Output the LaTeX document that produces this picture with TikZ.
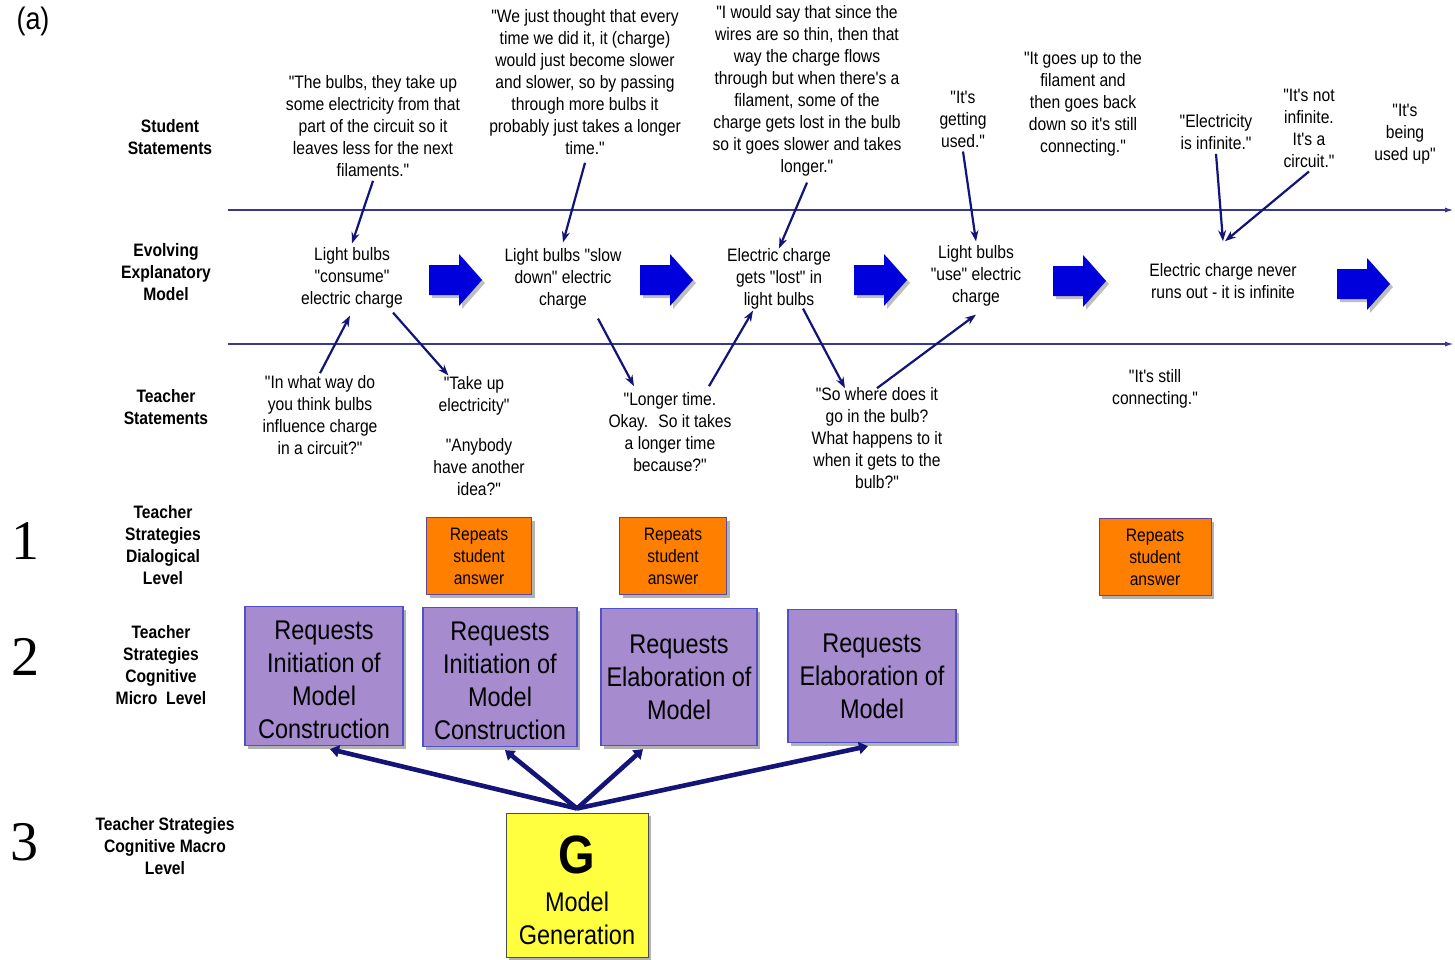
\documentclass[tikz,border=0pt]{standalone}
\usepackage{fontspec}
\setmainfont{Liberation Sans}[FakeStretch=0.87, Ligatures=TeXOff]
\newfontfamily\numfont{Liberation Serif}
\usetikzlibrary{arrows.meta,shadows}
\definecolor{navy}{RGB}{20,20,120}
\definecolor{linec}{RGB}{55,55,150}
\definecolor{arrowblue}{RGB}{0,0,220}
\definecolor{purp}{RGB}{166,140,206}
\definecolor{purpb}{RGB}{80,80,200}
\definecolor{orng}{RGB}{255,128,0}
\definecolor{oborder}{RGB}{100,70,150}
\definecolor{yel}{RGB}{255,255,64}
\begin{document}
\begin{tikzpicture}[x=1pt,y=-1pt,
  txt/.style={align=center, font=\fontsize{18}{22}\selectfont, inner sep=4pt},
  lbl/.style={align=center, font=\fontsize{18}{22}\selectfont\bfseries, inner sep=2pt},
  num/.style={font=\numfont\fontsize{56}{56}\selectfont, inner sep=0pt},
  sarr/.style={draw=navy, line width=2.2pt, -{Stealth[length=11pt,width=8pt]}},
  garr/.style={draw=navy, line width=4.6pt, -{Triangle[length=9pt,width=12pt]}},
  hline/.style={draw=linec, line width=1.6pt, -{Latex[length=9pt,width=5pt]}},
  shad/.style={drop shadow={shadow xshift=3pt, shadow yshift=-3pt, fill=gray!60, opacity=1}},
  obox/.style={shad, draw=oborder, fill=orng, line width=1pt, minimum height=77pt, align=center, font=\fontsize{18}{22}\selectfont},
  pbox/.style={shad, draw=purpb, fill=purp, line width=1.2pt, align=center, font=\fontsize{27}{33}\selectfont, inner sep=0pt},
  gbox/.style={shad, draw=black!70, fill=yel, line width=1pt, align=center, font=\fontsize{27}{33}\selectfont, minimum width=142pt, minimum height=144pt, inner sep=0pt},
  barrow/.pic={
    \fill[gray!50] (-23,-12) -- (7,-12) -- (7,-23) -- (30,3) -- (7,29) -- (7,18) -- (-23,18) -- cycle;
    \fill[arrowblue] (-26,-15) -- (4,-15) -- (4,-26) -- (27,0) -- (4,26) -- (4,15) -- (-26,15) -- cycle;
  }
]
\useasboundingbox (0,0) rectangle (1455,959);
\fill[white] (0,0) rectangle (1455,959);

% title
\node[font=\fontsize{31}{31}\selectfont, inner sep=0pt] (title) at (33,21) {(a)};

% left labels
\node[lbl] (lss) at (170,137) {Student\\Statements};
\node[lbl] (lem) at (166,272) {Evolving\\Explanatory\\Model};
\node[lbl] (lts) at (166,407) {Teacher\\Statements};
\node[lbl] (ldl) at (163,545) {Teacher\\Strategies\\Dialogical\\Level};
\node[lbl] (lmi) at (161,665) {Teacher\\Strategies\\Cognitive\\Micro~ Level};
\node[lbl] (lma) at (165,846) {Teacher Strategies\\Cognitive Macro\\Level};
\node[num] (n1) at (25,541) {1};
\node[num] (n2) at (25,657) {2};
\node[num] (n3) at (24,842) {3};

% horizontal lines
\coordinate (h1a) at (228,210);
\coordinate (h1b) at (1454,210);
\coordinate (h2a) at (228,344);
\coordinate (h2b) at (1454,344);
\draw[hline] (h1a) -- (h1b);
\draw[hline] (h2a) -- (h2b);

% student statements
\node[txt] (s1) at (373,126) {"The bulbs, they take up\\some electricity from that\\part of the circuit so it\\leaves less for the next\\filaments."};
\node[txt] (s2) at (585,82) {"We just thought that every\\time we did it, it (charge)\\would just become slower\\and slower, so by passing\\through more bulbs it\\probably just takes a longer\\time."};
\node[txt] (s3) at (807,91) {"I would say that since the\\wires are so thin, then that\\way the charge flows\\through but when there's a\\filament, some of the\\charge gets lost in the bulb\\so it goes slower and takes\\longer."};
\node[txt] (s4) at (963,119) {"It's\\getting\\used."};
\node[txt] (s5) at (1083,104) {"It goes up to the\\filament and\\then goes back\\down so it's still\\connecting."};
\node[txt] (s6) at (1216,132) {"Electricity\\is infinite."};
\node[txt] (s7) at (1309,128) {"It's not\\infinite.\\It's a\\circuit."};
\node[txt] (s8) at (1405,134) {"It's\\being\\used up"};

% model
\node[txt] (m1) at (352,278) {Light bulbs\\"consume"\\electric charge};
\node[txt] (m2) at (563,279) {Light bulbs "slow\\down" electric\\charge};
\node[txt] (m3) at (779,279) {Electric charge\\gets "lost" in\\light bulbs};
\node[txt] (m4) at (976,276) {Light bulbs\\"use" electric\\charge};
\node[txt] (m5) at (1223,281) {Electric charge never\\runs out - it is infinite};

% block arrows
\pic at (455,280) {barrow};
\pic at (666,280) {barrow};
\pic at (880,280) {barrow};
\pic at (1079,281) {barrow};
\pic at (1363,284) {barrow};

% teacher statements
\node[txt] (t1) at (320,415) {"In what way do\\you think bulbs\\influence charge\\in a circuit?"};
\node[txt] (t2) at (474,396) {"Take up\\electricity"};
\node[txt] (t3) at (479,467) {"Anybody\\have another\\idea?"};
\node[txt] (t4) at (670,432) {"Longer time.\\Okay.~ So it takes\\a longer time\\because?"};
\node[txt] (t5) at (877,438) {"So where does it\\go in the bulb?\\What happens to it\\when it gets to the\\bulb?"};
\node[txt] (t6) at (1155,389) {"It's still\\connecting."};

% student -> model arrows
\draw[sarr] (s1.south) -- (m1.north);
\draw[sarr] ([yshift=-4pt]s2.south) -- ([yshift=2pt]m2.north);
\draw[sarr] ([yshift=-2pt]s3.south) -- ([yshift=-4pt]m3.north);
\draw[sarr] (s4.south) -- (m4.north);
\draw[sarr] (s6.south) -- ([yshift=18pt]m5.north);
\draw[sarr] (s7.south) -- ([xshift=2pt,yshift=18pt]m5.north);

% teacher <-> model arrows
\draw[sarr] ([yshift=-2pt]t1.north) -- ([xshift=-2pt,yshift=-3pt]m1.south);
\draw[sarr] ([xshift=41pt]m1.south) -- ([xshift=14pt,yshift=-3pt]t2.north west);
\draw[sarr] ([xshift=35pt,yshift=-5pt]m2.south) -- ([xshift=-36pt,yshift=2pt]t4.north);
\draw[sarr] ([xshift=39pt,yshift=2pt]t4.north) -- ([xshift=-26pt,yshift=3pt]m3.south);
\draw[sarr] ([xshift=24pt,yshift=5pt]m3.south) -- ([xshift=-32pt,yshift=-5pt]t5.north);
\draw[sarr] ([yshift=-5pt]t5.north) -- ([yshift=-4pt]m4.south);

% dialogical level
\node[obox, minimum width=105pt] (o1) at (479,556) {Repeats\\student\\answer};
\node[obox, minimum width=107pt] (o2) at (673,556) {Repeats\\student\\answer};
\node[obox, minimum width=112pt] (o3) at (1155,557) {Repeats\\student\\answer};

% micro level
\node[pbox, minimum width=158pt, minimum height=139pt] (p1) at (324,676) {\rule{0pt}{27pt}Requests\\Initiation of\\Model\\Construction};
\node[pbox, minimum width=154pt, minimum height=139pt] (p2) at (500,677) {\rule{0pt}{27pt}Requests\\Initiation of\\Model\\Construction};
\node[pbox, minimum width=156pt, minimum height=137pt] (p3) at (679,677) {Requests\\Elaboration of\\Model};
\node[pbox, minimum width=168pt, minimum height=133pt] (p4) at (872,676) {Requests\\Elaboration of\\Model};

% macro level
\node[gbox] (g) at (577,885) {{\fontsize{54}{54}\selectfont\bfseries\rule{0pt}{49pt}G}\\[5pt]Model\\Generation};

\draw[garr] ([yshift=4pt]g.north) -- ([xshift=6pt,yshift=-3pt]p1.south);
\draw[garr] ([yshift=4pt]g.north) -- ([xshift=5pt,yshift=-3pt]p2.south);
\draw[garr] ([yshift=4pt]g.north) -- ([xshift=-36pt,yshift=-3pt]p3.south);
\draw[garr] ([yshift=4pt]g.north) -- ([xshift=-4pt,yshift=-3pt]p4.south);
\end{tikzpicture}
\end{document}
